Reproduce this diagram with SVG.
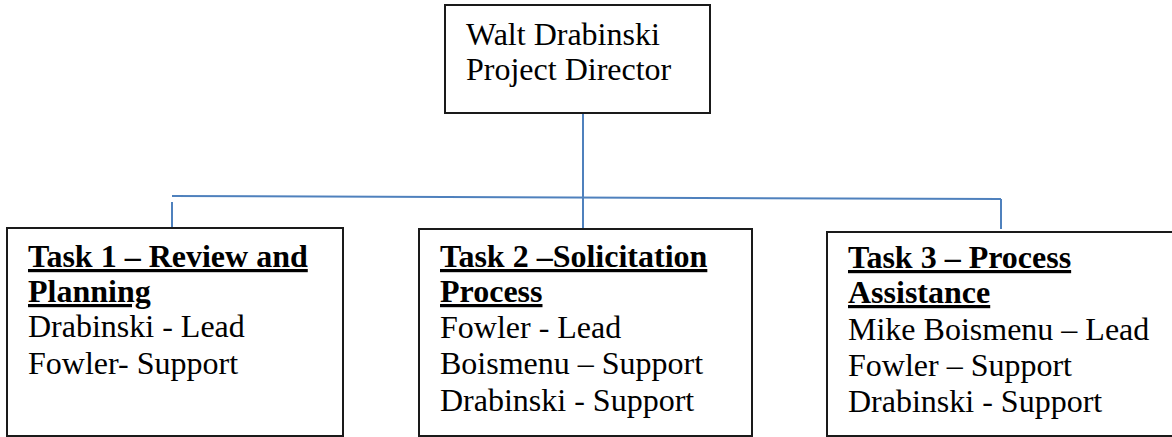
<svg xmlns="http://www.w3.org/2000/svg" width="1172" height="437" viewBox="0 0 1172 437">
<style>
.box{fill:#fff;stroke:#1a1a1a;stroke-width:2}
.t{font-family:"Liberation Serif","Times New Roman",serif;font-size:32px;fill:#000}
.h{font-weight:bold;text-decoration:underline}
.conn{stroke:#4f81bd;stroke-width:2;fill:none}
</style>
<g id="connectors">
<line class="conn" x1="583" y1="113" x2="583" y2="229"/>
<line class="conn" x1="172" y1="196" x2="1001" y2="199"/>
<line class="conn" x1="172" y1="202" x2="172" y2="229"/>
<line class="conn" x1="1001" y1="199" x2="1001" y2="229"/>
</g>
<g id="director">
<rect class="box" x="445" y="5" width="265" height="108"/>
<text class="t" x="466" y="45">Walt Drabinski</text>
<text class="t" x="466" y="80">Project Director</text>
</g>
<g id="task1">
<rect class="box" x="7" y="228" width="336" height="208"/>
<text class="t h" x="28" y="267">Task 1 – Review and</text>
<text class="t h" x="28" y="302">Planning</text>
<text class="t" x="28" y="337">Drabinski - Lead</text>
<text class="t" x="28" y="374">Fowler- Support</text>
</g>
<g id="task2">
<rect class="box" x="419" y="229" width="333" height="207"/>
<text class="t h" x="440" y="267">Task 2 –Solicitation</text>
<text class="t h" x="440" y="302">Process</text>
<text class="t" x="440" y="338">Fowler - Lead</text>
<text class="t" x="440" y="374">Boismenu – Support</text>
<text class="t" x="440" y="411">Drabinski - Support</text>
</g>
<g id="task3">
<rect class="box" x="827" y="232" width="350" height="204"/>
<text class="t h" x="848" y="268">Task 3 – Process</text>
<text class="t h" x="848" y="303">Assistance</text>
<text class="t" x="848" y="340">Mike Boismenu – Lead</text>
<text class="t" x="848" y="376">Fowler – Support</text>
<text class="t" x="848" y="412">Drabinski - Support</text>
</g>
</svg>
